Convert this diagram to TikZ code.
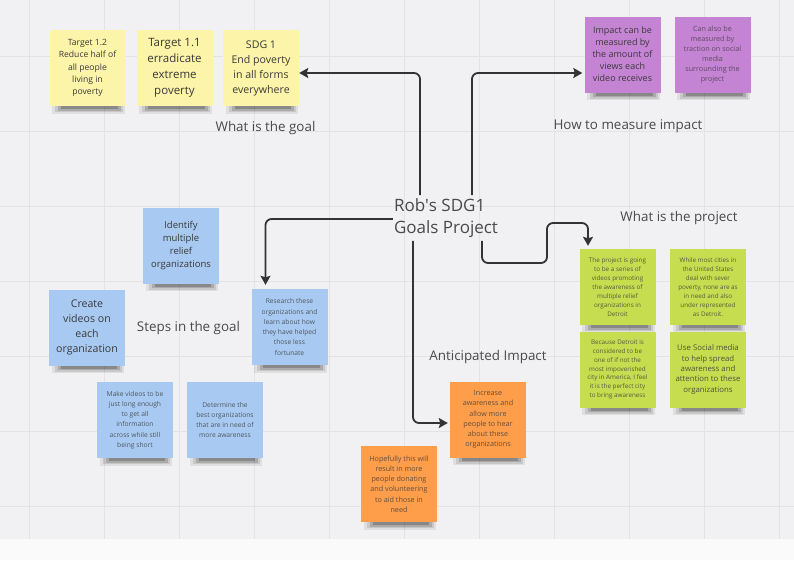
\documentclass[tikz,border=0pt]{standalone}
\usepackage{fontspec}
\setmainfont{Open Sans}
\usetikzlibrary{arrows.meta}
\pgfdeclarelayer{bg}
\pgfsetlayers{bg,main}
\definecolor{bgc}{HTML}{F1F0F2}
\definecolor{gridc}{HTML}{E3E2E6}
\definecolor{yel}{HTML}{FCF4A8}
\definecolor{pur}{HTML}{C583D4}
\definecolor{grn}{HTML}{C6DD50}
\definecolor{blu}{HTML}{A8CAF2}
\definecolor{org}{HTML}{FF9E4A}
\definecolor{ink}{HTML}{3A3A3A}
\definecolor{lbl}{HTML}{4A4A4A}
\definecolor{conn}{HTML}{333333}
\newcommand\myfs[2]{\fontsize{#1}{#2}\selectfont}
\begin{document}
\begin{tikzpicture}[x=1pt,y=-1pt,
  sticky/.style={minimum width=76pt, minimum height=76pt, inner sep=0pt, align=center, text=ink},
  lab/.style={text=lbl, font=\myfs{13.4}{16}, inner sep=1pt},
  connector/.style={draw=conn, line width=1.8pt, rounded corners=6pt, -{Stealth[length=9pt,width=10pt,inset=1.5pt]}}]
\useasboundingbox (0,0) rectangle (794,560);
\begin{pgfonlayer}{bg}
\fill[bgc] (0,0) rectangle (794,539);
\fill[white!98!black] (0,539) rectangle (794,560);
\foreach \gx in {29,104,...,779} \draw[gridc, line width=0.9pt] (\gx,0) -- (\gx,539);
\foreach \gy in {56,131,...,506} \draw[gridc, line width=0.9pt] (0,\gy) -- (794,\gy);
\end{pgfonlayer}

% yellow
\node[sticky, fill=yel, font=\myfs{8.6}{12.3}] (t12) at (87.5,68) {Target 1.2\\Reduce half of\\all people\\living in\\poverty};
\node[sticky, fill=yel, font=\myfs{11.5}{16}] (t11) at (174.5,68) {Target 1.1\\erradicate\\extreme\\poverty};
\node[sticky, fill=yel, font=\myfs{10.6}{15}] (sdg) at (261,68) {SDG 1\\End poverty\\in all forms\\everywhere};
% purple
\node[sticky, fill=pur, font=\myfs{9}{12}] (impact) at (622.5,54.5) {Impact can be\\measured by\\the amount of\\views each\\video receives};
\node[sticky, fill=pur, font=\myfs{7.2}{10}, text=ink!75!pur] (canalso) at (712.5,54.5) {Can also be\\measured by\\traction on social\\media\\surrounding the\\project};
% green
\node[sticky, fill=grn, font=\myfs{6.3}{8.9}, text=ink!80!grn] (proj) at (617.5,287) {The project is going\\to be a series of\\videos promoting\\the awareness of\\multiple relief\\organizations in\\Detroit};
\node[sticky, fill=grn, font=\myfs{6.3}{8.9}, text=ink!80!grn] (while) at (708,287) {While most cities in\\the United States\\deal with sever\\poverty, none are as\\in need and also\\under represented\\as Detroit.};
\node[sticky, fill=grn, font=\myfs{6.3}{8.9}, text=ink!80!grn] (because) at (617.5,369.5) {Because Detroit is\\considered to be\\one of if not the\\most impoverished\\city in America, I feel\\it is the perfect city\\to bring awareness};
\node[sticky, fill=grn, font=\myfs{7.8}{10.3}, text=ink!85!grn] (social) at (708,369.5) {Use Social media\\to help spread\\awareness and\\attention to these\\organizations};
% blue
\node[sticky, fill=blu, font=\myfs{9.5}{13.3}] (identify) at (181,245.5) {Identify\\multiple\\relief\\organizations};
\node[sticky, fill=blu, font=\myfs{10.6}{14.8}] (create) at (87,327.5) {Create\\videos on\\each\\organization};
\node[sticky, fill=blu, font=\myfs{6.7}{10.3}, text=ink!80!blu] (research) at (289.5,327) {Research these\\organizations and\\learn about how\\they have helped\\those less\\fortunate};
\node[sticky, fill=blu, font=\myfs{6.7}{10.2}, text=ink!80!blu] (make) at (135,420) {Make videos to be\\just long enough\\to get all\\information\\across while still\\being short};
\node[sticky, fill=blu, font=\myfs{6.7}{10.2}, text=ink!80!blu] (determine) at (225,420) {Determine the\\best organizations\\that are in need of\\more awareness};
% orange
\node[sticky, fill=org, font=\myfs{7.2}{10.2}, text=ink!80!org] (increase) at (488,419.5) {Increase\\awareness and\\allow more\\people to hear\\about these\\organizations};
\node[sticky, fill=org, font=\myfs{7.2}{10.2}, text=ink!80!org] (hopeful) at (399,484) {Hopefully this will\\result in more\\people donating\\and volunteering\\to aid those in\\need};

% shadows
\begin{pgfonlayer}{bg}
\foreach \n in {t12,t11,sdg,impact,canalso,proj,while,because,social,identify,create,research,make,determine,increase,hopeful} {
  \fill[black, opacity=0.07] ([xshift=3pt,yshift=2pt]\n.south west) rectangle ([xshift=-1pt,yshift=-7.5pt]\n.south east);
  \fill[black, opacity=0.10] ([xshift=6pt,yshift=2pt]\n.south west) rectangle ([xshift=-3pt,yshift=-6pt]\n.south east);
  \fill[black, opacity=0.15] ([xshift=9pt,yshift=2pt]\n.south west) rectangle ([xshift=-5pt,yshift=-4.5pt]\n.south east);
  \fill[black, opacity=0.20] ([xshift=12pt,yshift=2pt]\n.south west) rectangle ([xshift=-8pt,yshift=-3pt]\n.south east);
}
\end{pgfonlayer}

% labels
\node[lab] (lgoal) at (265.5,128) {What is the goal};
\node[lab] (lmeasure) at (628,126) {How to measure impact};
\node[lab] (lproject) at (679,218) {What is the project};
\node[lab] (lsteps) at (188.5,328) {Steps in the goal};
\node[lab] (lanticip) at (488,357) {Anticipated Impact};
\node[text=lbl, font=\myfs{17}{22.5}, align=left, inner sep=1pt] (center) at (446,218) {Rob\textquotesingle s SDG1\\Goals Project};

% connectors
\draw[connector] ([xshift=-26pt,yshift=2pt]center.north) |- ([yshift=-5pt]sdg.east);
\draw[connector] ([xshift=26pt,yshift=2pt]center.north) |- ([yshift=-18.5pt,xshift=-2pt]impact.west);
\draw[connector] ([yshift=-1pt]center.west) -| ([xshift=-24pt,yshift=4pt]research.north);
\coordinate (k1) at (547,263);
\coordinate (k2) at (547,223);
\draw[connector] ([xshift=36pt,yshift=-2pt]center.south) |- (k1) -- (k2) -| ([xshift=-29.5pt,yshift=3pt]proj.north);
\draw[connector] ([xshift=-33pt,yshift=-2pt]center.south) |- ([yshift=-3.5pt,xshift=-2pt]increase.west);
\end{tikzpicture}
\end{document}
